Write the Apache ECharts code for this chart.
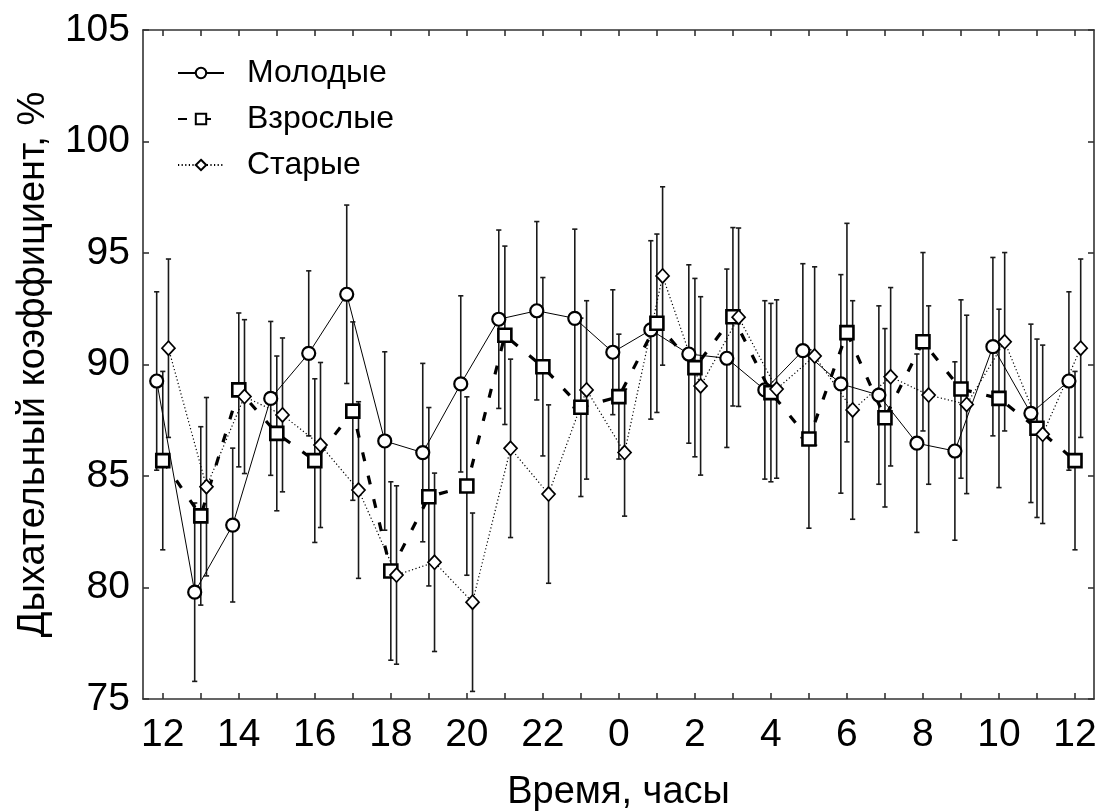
<!DOCTYPE html>
<html>
<head>
<meta charset="utf-8">
<script src="https://cdn.jsdelivr.net/npm/echarts@6/dist/echarts.min.js"></script>
<style>
html,body{margin:0;padding:0;background:#fff;}
#chart{width:1100px;height:812px;}
</style>
</head>
<body>
<div id="chart"></div>
<script>
// ---- data ----
const hours = [0,1,2,3,4,5,6,7,8,9,10,11,12,13,14,15,16,17,18,19,20,21,22,23,24];
const hourLabels = ['12','13','14','15','16','17','18','19','20','21','22','23','0','1','2','3','4','5','6','7','8','9','10','11','12'];
const labeledHours = [0,2,4,6,8,10,12,14,16,18,20,22,24];
const seriesNames = ['Молодые','Взрослые','Старые'];

const young = [89.26,79.79,82.8,88.48,90.5,93.15,86.57,86.05,89.13,92.03,92.41,92.07,90.55,91.55,90.47,90.28,88.86,90.62,89.13,88.63,86.47,86.12,90.8,87.81,89.26];
const youngErr = [4,4,3.45,3.45,3.7,4,4,4,3.95,4,4,4,2.8,4,4,4,4,3.9,4.9,4,4,4,4,4,4];

const adult = [85.69,83.21,88.86,86.91,85.69,87.91,80.74,84.07,84.55,91.31,89.9,88.08,88.56,91.85,89.86,92.14,88.74,86.66,91.43,87.61,91.02,88.9,88.48,87.14,85.69];
const adultErr = [4,4,3.45,3.47,3.67,4,4,4,4,4,4,4,2.8,4,4,4,4,4,4.9,4,4,4,4,4,4];

const old = [90.73,84.52,88.56,87.74,86.39,84.37,80.56,81.13,79.34,86.24,84.19,88.86,86.05,93.97,89.04,92.12,88.9,90.38,87.96,89.45,88.63,88.21,91.02,86.87,90.73];
const oldErr = [4,4,3.45,3.45,3.7,3.96,4,4,4,4,4,4,2.85,4,4,4,4,4,4.9,4,4,4,4,4,4];

// ---- build ----
const offsets = [-0.16, 0, 0.15];
const FONT = '"Liberation Sans", Arial, sans-serif';

function pts(vals, off){ return hours.map((h,i)=>[h+off, vals[i]]); }
function errs(vals, e, off){ return hours.map((h,i)=>[h+off, vals[i]-e[i], vals[i]+e[i]]); }

function errorSeries(data){
  return {
    type:'custom', z:1, silent:true,
    xAxisIndex:0, yAxisIndex:0,
    data:data,
    encode:{x:0, y:[1,2]},
    renderItem:function(params, api){
      const x = api.value(0);
      const lo = api.coord([x, api.value(1)]);
      const hi = api.coord([x, api.value(2)]);
      const c = 2.6;
      const st = {stroke:'#1a1a1a', lineWidth:1.6};
      return {type:'group', children:[
        {type:'line', shape:{x1:lo[0],y1:lo[1],x2:hi[0],y2:hi[1]}, style:st},
        {type:'line', shape:{x1:lo[0]-c,y1:lo[1],x2:lo[0]+c,y2:lo[1]}, style:st},
        {type:'line', shape:{x1:hi[0]-c,y1:hi[1],x2:hi[0]+c,y2:hi[1]}, style:st}
      ]};
    }
  };
}

const tickValues = hours.slice();
const xFmt = v => { const i = hours.indexOf(Math.round(v)); return i>=0 ? hourLabels[i] : ''; };
const axisLineStyle = {show:true, onZero:false, lineStyle:{color:'#333', width:1.6}};
const tickStyle = {color:'#333', width:1.6};

const chart = echarts.init(document.getElementById('chart'), null, {renderer:'canvas'});
chart.setOption({
  backgroundColor:'#fff',
  animation:false,
  grid:{left:143, right:6, top:30, bottom:113, containLabel:false, outerBoundsMode:'none'},
  legend:{
    orient:'vertical', left:172, top:52,
    itemWidth:46, itemHeight:13, itemGap:14,
    textStyle:{fontFamily:FONT, fontSize:32, color:'#000', lineHeight:32, padding:[0,0,0,18]},
    data:seriesNames
  },
  xAxis:[{
    type:'value', min:-0.52, max:24.5, position:'bottom',
    name:'Время, часы', nameLocation:'middle', nameGap:75,
    nameTextStyle:{fontFamily:FONT, fontSize:38, color:'#000'},
    axisLine:axisLineStyle,
    axisTick:{show:true, inside:true, length:6, customValues:tickValues, lineStyle:tickStyle},
    axisLabel:{show:true, customValues:labeledHours, formatter:xFmt, margin:17, fontFamily:FONT, fontSize:39, color:'#000'},
    splitLine:{show:false}
  },{
    type:'value', min:-0.52, max:24.5, position:'top',
    axisLine:axisLineStyle,
    axisTick:{show:true, inside:true, length:6, customValues:tickValues, lineStyle:tickStyle},
    axisLabel:{show:false}, splitLine:{show:false}
  }],
  yAxis:[{
    type:'value', min:75, max:105, interval:5, position:'left',
    name:'Дыхательный коэффициент, %', nameLocation:'middle', nameGap:90,
    nameTextStyle:{fontFamily:FONT, fontSize:38, color:'#000'},
    axisLine:axisLineStyle,
    axisTick:{show:true, inside:true, length:6, lineStyle:tickStyle},
    axisLabel:{margin:13, fontFamily:FONT, fontSize:39, color:'#000'},
    splitLine:{show:false}
  },{
    type:'value', min:75, max:105, interval:5, position:'right',
    axisLine:axisLineStyle,
    axisTick:{show:true, inside:true, length:6, lineStyle:tickStyle},
    axisLabel:{show:false}, splitLine:{show:false}
  }],
  series:[
    errorSeries(errs(young, youngErr, offsets[0])),
    errorSeries(errs(adult, adultErr, offsets[1])),
    errorSeries(errs(old, oldErr, offsets[2])),
    {
      name:seriesNames[0], type:'line', z:3, data:pts(young, offsets[0]),
      symbol:'circle', symbolSize:13,
      itemStyle:{color:'#fff', borderColor:'#000', borderWidth:2.2},
      lineStyle:{color:'#000', width:1, type:'solid'}
    },
    {
      name:seriesNames[1], type:'line', z:3, data:pts(adult, offsets[1]),
      symbol:'rect', symbolSize:13,
      itemStyle:{color:'#fff', borderColor:'#000', borderWidth:2.6},
      lineStyle:{color:'#000', width:3.2, type:[9,15]}
    },
    {
      name:seriesNames[2], type:'line', z:3, data:pts(old, offsets[2]),
      symbol:'diamond', symbolSize:[13,14],
      itemStyle:{color:'#fff', borderColor:'#000', borderWidth:1.7},
      lineStyle:{color:'#000', width:1.2, type:[1.2,2.4]}
    }
  ]
});
</script>
</body>
</html>
